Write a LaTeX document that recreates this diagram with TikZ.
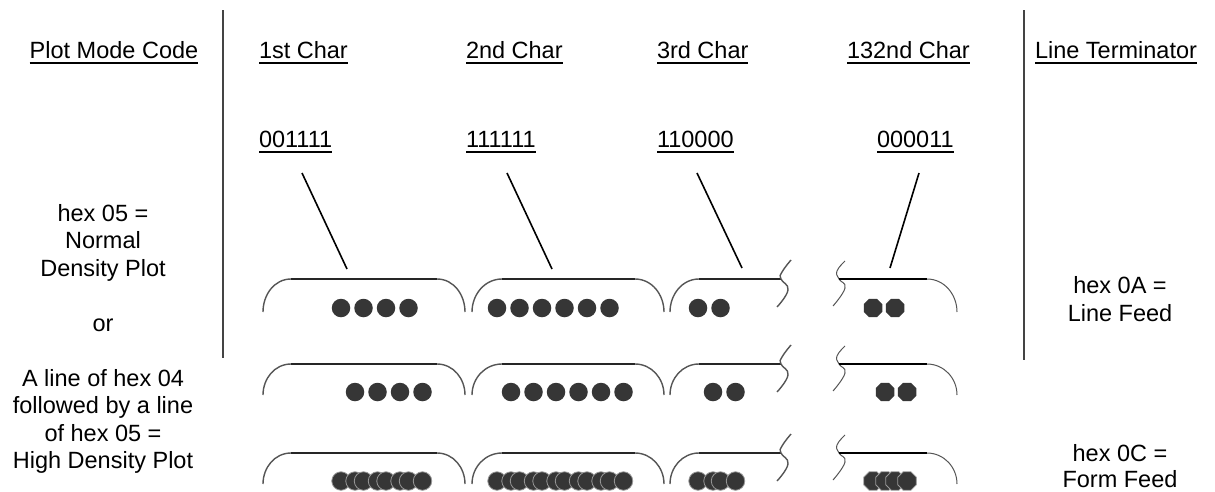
\documentclass[tikz,border=0pt]{standalone}
\usepackage{fontspec}
\setmainfont{Liberation Sans}
\usetikzlibrary{shapes.geometric}
\definecolor{dotc}{HTML}{363636}
\definecolor{arcc}{HTML}{555555}
\definecolor{sepc}{HTML}{444444}
\newcommand\ulx[1]{\setbox0=\hbox{#1}\rlap{\rule[-5pt]{\wd0}{2pt}}\box0}
\begin{document}
\begin{tikzpicture}[x=1pt,y=-1pt,
  every node/.style={inner sep=0pt,outer sep=0pt,font=\fontsize{23.5}{27.5}\selectfont},
  txt/.style={anchor=base},
  hd/.style={anchor=base west},
  sepline/.style={draw=sepc,line width=1.4pt},
  conn/.style={draw=black,line width=1.6pt},
  arcline/.style={draw=arcc,line width=1.4pt},
  topline/.style={draw=black!85,line width=2.2pt},
  thinline/.style={draw=black,line width=1.2pt},
  dotn/.style={circle,fill=dotc,minimum size=18.5pt},
  dotov/.style={circle,fill=dotc,draw=black!40,line width=0.8pt,minimum size=18.5pt},
  octn/.style={regular polygon,regular polygon sides=8,fill=dotc,minimum size=20pt},
  octov/.style={regular polygon,regular polygon sides=8,fill=dotc,draw=black!40,line width=0.8pt,minimum size=20pt}]
\useasboundingbox (0,0) rectangle (1215,491);
\fill[white] (0,0) rectangle (1215,491);

% separators
\coordinate (s1t) at (223,10);
\coordinate (s1b) at (223,358);
\coordinate (s2t) at (1024,10);
\coordinate (s2b) at (1024,360);
\draw[sepline] (s1t) -- (s1b);
\draw[sepline] (s2t) -- (s2b);

% headings
\node[txt] (hpm) at (114,58.5) {\ulx{Plot Mode Code}};
\node[hd] (h1) at (259,58.5) {\ulx{1st Char}};
\node[hd] (h2) at (466,58.5) {\ulx{2nd Char}};
\node[hd] (h3) at (657,58.5) {\ulx{3rd Char}};
\node[hd] (h4) at (847,58.5) {\ulx{132nd Char}};
\node[hd] (hlt) at (1035,58.5) {\ulx{Line Terminator}};

% binary codes
\node[hd] (b1) at (259,147.5) {\ulx{001111}};
\node[hd] (b2) at (466,147.5) {\ulx{111111}};
\node[hd] (b3) at (657,147.5) {\ulx{110000}};
\node[hd] (b4) at (877,147.5) {\ulx{000011}};

% left description
\node[txt] (l1) at (103,221) {hex 05 =};
\node[txt] (l2) at (103,248.5) {Normal};
\node[txt] (l3) at (103,276) {Density Plot};
\node[txt] (l4) at (103,331) {or};
\node[txt] (l5) at (103,386) {A line of hex 04};
\node[txt] (l6) at (103,413.5) {followed by a line};
\node[txt] (l7) at (103,441) {of hex 05 =};
\node[txt] (l8) at (103,468.5) {High Density Plot};

% right description
\node[txt] (r1) at (1120,293) {hex 0A =};
\node[txt] (r2) at (1120,321) {Line Feed};
\node[txt] (r3) at (1120,461) {hex 0C =};
\node[txt] (r4) at (1120,487.5) {Form Feed};

% character cell frames
\foreach \t/\b in {279/312, 364/395, 453/484} {
  % cell 1
  \draw[arcline] (263,\b) to[out=90,in=180] (291,\t);
  \draw[arcline] (437,\t) to[out=0,in=90] (465,\b);
  \draw[topline] (291,\t) -- (437,\t);
  % cell 2
  \draw[arcline] (472,\b) to[out=90,in=180] (502,\t);
  \draw[arcline] (635,\t) to[out=0,in=90] (664,\b);
  \draw[topline] (502,\t) -- (635,\t);
  % cell 3
  \draw[arcline] (670,\b) to[out=90,in=180] (699,\t);
  \draw[topline] (699,\t) -- (781,\t);
  \draw[arcline] plot[smooth,tension=0.8] coordinates {(791,\t-19) (782,\t-7) (781,\t) (788,\t+11) (777,\t+28)};
  % cell 4
  \draw[arcline,line width=1pt] plot[smooth,tension=0.8] coordinates {(845,\t-18) (837,\t-8) (839,\t) (845,\t+9) (833,\t+27)};
  \draw[thinline] (839,\t) -- (927,\t);
  \draw[arcline,line width=1pt] (927,\t) to[out=0,in=90] (957,\b);
}

% row 1 dots
\foreach \x in {341,363.5,386,408.5,497,519.5,542,564.5,587,609.5,698,720.5}
  \node[dotn] at (\x,308) {};
\foreach \x in {873,895}
  \node[octn] at (\x,308) {};
% row 2 dots
\foreach \x in {355,377.5,400,422.5,511,533.5,556,578.5,601,623.5,713,735.5}
  \node[dotn] at (\x,392) {};
\foreach \x in {885,907}
  \node[octn] at (\x,392) {};
% row 3 dots (both passes overlaid)
\foreach \x in {341,355,363.5,377.5,386,400,408.5,422.5,497,511,519.5,533.5,542,556,564.5,578.5,587,601,609.5,623.5,698,713,720.5,735.5}
  \node[dotov] at (\x,481) {};
\foreach \x in {873,885,895,907}
  \node[octov] at (\x,481) {};

% connectors from codes to cells
\coordinate (c1a) at (302,173); \coordinate (c1b) at (347,269);
\coordinate (c2a) at (507,173); \coordinate (c2b) at (552,269);
\coordinate (c3a) at (697,173); \coordinate (c3b) at (742,268);
\coordinate (c4a) at (919,173); \coordinate (c4b) at (890,268);
\draw[conn] (c1a) -- (c1b);
\draw[conn] (c2a) -- (c2b);
\draw[conn] (c3a) -- (c3b);
\draw[conn] (c4a) -- (c4b);
\end{tikzpicture}
\end{document}
